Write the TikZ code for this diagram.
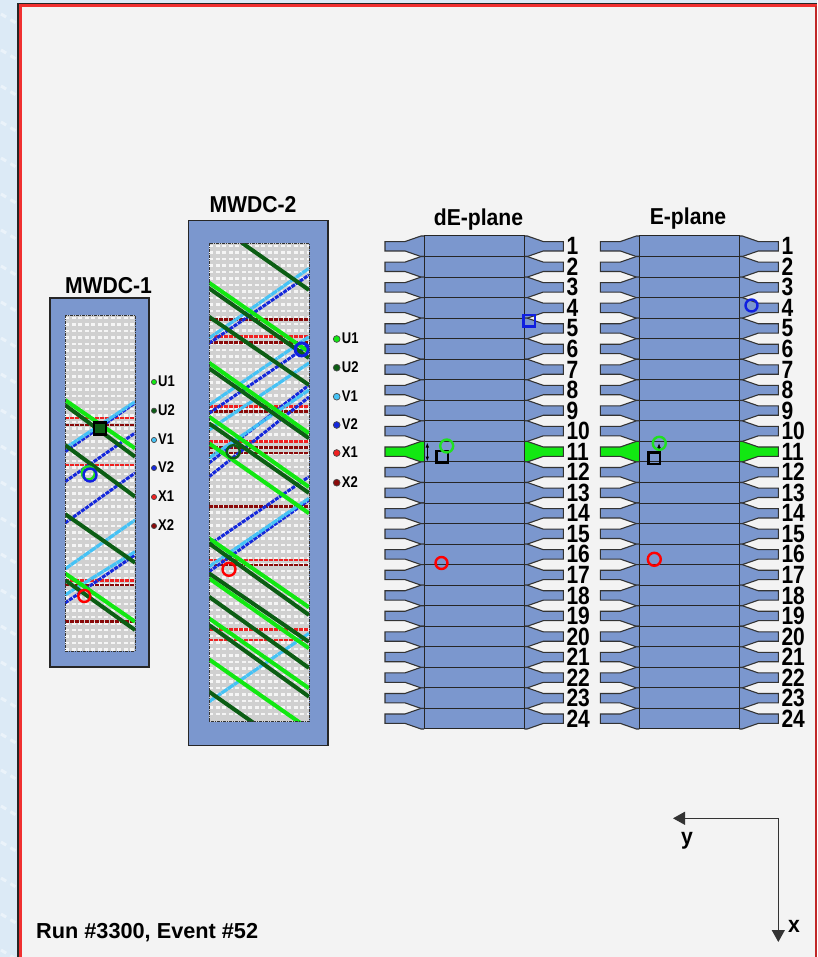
\documentclass[tikz,border=0pt]{standalone}
\usepackage{fontspec}
\setmainfont{Liberation Sans}
\newfontfamily\narrowfont[FakeStretch=0.84]{Liberation Sans}
\newfontfamily\titlefont[FakeStretch=0.92]{Liberation Sans}
\usetikzlibrary{arrows.meta}
\definecolor{panelgray}{HTML}{F3F3F3}
\definecolor{skyblue}{HTML}{DCEAF6}
\definecolor{framered}{HTML}{F03030}
\definecolor{chamberblue}{HTML}{7B97CE}
\definecolor{meshgray}{HTML}{D0D0D0}
\definecolor{uonecol}{HTML}{12E812}
\definecolor{utwocol}{HTML}{0C5E14}
\definecolor{vonecol}{HTML}{45C2F5}
\definecolor{vtwocol}{HTML}{1428DC}
\definecolor{xonecol}{HTML}{F02020}
\definecolor{xtwocol}{HTML}{8A0A0A}
\definecolor{hitblue}{HTML}{1020E0}
\definecolor{hitgreen}{HTML}{20E020}

\begin{document}
\begin{tikzpicture}[x=1pt, y=-1pt,
    title/.style={font=\titlefont\bfseries\fontsize{23}{23}\selectfont, inner sep=0pt},
    numlab/.style={font=\narrowfont\bfseries\fontsize{25}{25}\selectfont, anchor=west, inner sep=0pt},
    keylab/.style={font=\narrowfont\bfseries\fontsize{15.5}{15.5}\selectfont, anchor=west, inner sep=0pt},
    chamber/.style={fill=chamberblue, draw=black!85, line width=1.2pt},
    meshrow/.style={white, opacity=0.8, line width=2.4pt, dash pattern=on 4pt off 2.5pt},
    mesh/.style={draw=black!80, line width=0.8pt, dash pattern=on 3pt off 1pt on 1pt off 1pt},
    wireu1/.style={uonecol, line width=4pt},
    wireu2/.style={utwocol, line width=4pt},
    wirev1/.style={vonecol, line width=3.2pt, dash pattern=on 7pt off 0.6pt},
    wirev2/.style={vtwocol, line width=3pt, dash pattern=on 4pt off 1pt},
    wirex1/.style={xonecol, line width=2.8pt, dash pattern=on 4pt off 1pt},
    wirex2/.style={xtwocol, line width=2.8pt, dash pattern=on 4pt off 1pt},
    keydot/.style={line width=0.7pt, draw=black!70},
    hit/.style={line width=2.4pt},
    axis/.style={draw=black!80, line width=1.2pt, -{Triangle[length=12pt, width=13pt]}}
]
  \useasboundingbox (0,0) rectangle (817,957);

  % page background and frame
  \fill[skyblue] (0,0) rectangle (817,957);
  \foreach \yy in {14,50,...,950}
    \draw[white, line width=3pt, opacity=0.45, dash pattern=on 6pt off 5pt] (1,\yy) -- (16,\yy+9);
  \fill[panelgray] (20,5) rectangle (815,957);
  \draw[black!85, line width=1.2pt] (18,957) -- (18,3.5) -- (817,3.5);
  \draw[framered, line width=3pt] (20.5,957) -- (20.5,6) -- (817,6);
  \draw[framered!80!black, line width=2pt] (816,6) -- (816,957);

  % MWDC-1 chamber
  \draw[chamber] (50,298) rectangle (149,667);
  \fill[meshgray] (65,315) rectangle (135,651);
  \begin{scope}
    \clip (65,315) rectangle (135,651);
    \foreach \yy in {318,324.5,...,650}
      \draw[meshrow] (65,\yy) -- (135,\yy);
    \foreach \yy in {418,465,580.7}
      \draw[wirex1] (65,\yy) -- (135,\yy);
    \foreach \yy in {425,585,621.7}
      \draw[wirex2] (65,\yy) -- (135,\yy);
    \foreach \ya/\yb in {451.7/403,481.7/433,523/473,603/555}
      \draw[wirev2] (65,\ya) -- (135,\yb);
    \foreach \ya/\yb in {448.3/401.7,569/520,595/551.7}
      \draw[wirev1] (65,\ya) -- (135,\yb);
    \foreach \ya/\yb in {400/448.3,573.3/621.7}
      \draw[wireu1] (65,\ya) -- (135,\yb);
    \foreach \ya/\yb in {405/456.7,445/496.7,514/562.7,580/630}
      \draw[wireu2] (65,\ya) -- (135,\yb);
  \end{scope}
  \draw[mesh] (65,315) rectangle (135,651);
  \draw[black, line width=2.6pt, fill=utwocol] (94,422.3) rectangle (106,434.3);
  \draw[hit, hitgreen] (88.3,473) circle (6.5);
  \draw[hit, hitblue] (90,475) circle (6.5);
  \draw[hit, red] (84.3,596) circle (6);
  \node[title] (mwdcone) at (108.5,286) {MWDC-1};

  % MWDC-2 chamber
  \draw[chamber] (188.5,220.5) rectangle (328,745.5);
  \fill[meshgray] (209,243.5) rectangle (309,721.5);
  \begin{scope}
    \clip (209,243.5) rectangle (309,721.5);
    \foreach \yy in {246,252.5,...,720}
      \draw[meshrow] (209,\yy) -- (309,\yy);
    \foreach \yy in {336.7,406.7,441.7,560,629.3,640}
      \draw[wirex1] (209,\yy) -- (309,\yy);
    \foreach \yy in {319.3,342.7,411.7,447.3,453,506.7,565}
      \draw[wirex2] (209,\yy) -- (309,\yy);
    \foreach \ya/\yb in {343.3/275,413.3/345,463/385,476.7/397,545/476.7,571.7/500}
      \draw[wirev2] (209,\ya) -- (309,\yb);
    \foreach \ya/\yb in {338.3/268.3,405/336.7,430/363,458/390,566.7/498.3,701.7/633.3}
      \draw[wirev1] (209,\ya) -- (309,\yb);
    \foreach \ya/\yb in {282.7/352,362.7/433.3,416.7/487,443.3/513.3,538.3/607.3,578.3/648.3,618.3/688.3,659.3/729}
      \draw[wireu1] (209,\ya) -- (309,\yb);
    \foreach \ya/\yb in {288.3/358,316.7/385,368.3/438.3,423.3/493,543.3/615,573.3/642,596.7/668,625/696.7,691.7/761.7}
      \draw[wireu2] (209,\ya) -- (309,\yb);
    \draw[wireu2] (241.7,242.7) -- (309,290);
  \end{scope}
  \draw[mesh] (209,243.5) rectangle (309,721.5);
  \draw[line width=3pt, hitblue] (301.7,349.5) circle (6.5);
  \draw[hit, utwocol] (233.3,451.7) circle (6.5);
  \draw[hit, red] (229,569.3) circle (6.5);
  \node[title] (mwdctwo) at (253,205) {MWDC-2};

  % wire plane keys
  \foreach \kx/\ky/\kcol/\ktxt in {154/382/uonecol/U1, 154/410.7/utwocol/U2, 154/440/vonecol/V1,
      154/468/vtwocol/V2, 154/497/xonecol/X1, 154/526/xtwocol/X2} {
    \filldraw[keydot, fill=\kcol] (\kx,\ky) circle (2.6);
    \node[keylab] (keyone\ktxt) at (\kx+4,\ky-1) {\ktxt};
  }
  \foreach \kx/\ky/\kcol/\ktxt in {336.7/339/uonecol/U1, 336.7/367.7/utwocol/U2, 336.7/396.7/vonecol/V1,
      336.7/425/vtwocol/V2, 336.7/453/xonecol/X1, 336.7/482.7/xtwocol/X2} {
    \filldraw[keydot, fill=\kcol] (\kx,\ky) circle (3.4);
    \node[keylab] (keytwo\ktxt) at (\kx+5,\ky-1) {\ktxt};
  }

  % scintillator planes
  \foreach \xl/\xr/\pname in {424/524.3/dE, 639.3/739.3/E} {
    \foreach \i in {1,...,24} {
      \pgfmathsetmacro{\yt}{236+20.54*(\i-1)}
      \pgfmathsetmacro{\yb}{\yt+20.54}
      \pgfmathsetmacro{\yc}{\yt+10.27}
      \ifnum\i=11 \def\guidecol{uonecol}\else\def\guidecol{chamberblue}\fi
      \filldraw[draw=black!80, line width=1.1pt, fill=\guidecol]
        (\xl,\yt) -- (\xl-3,\yt) -- (\xl-19,\yc-4.7) -- (\xl-39,\yc-4.7) -- (\xl-39,\yc+4.7)
        -- (\xl-19,\yc+4.7) -- (\xl-3,\yb) -- (\xl,\yb);
      \filldraw[draw=black!80, line width=1.1pt, fill=\guidecol]
        (\xr,\yt) -- (\xr+3,\yt) -- (\xr+19,\yc-4.7) -- (\xr+39,\yc-4.7) -- (\xr+39,\yc+4.7)
        -- (\xr+19,\yc+4.7) -- (\xr+3,\yb) -- (\xr,\yb);
      \filldraw[draw=black!85, line width=1pt, fill=chamberblue] (\xl,\yt) rectangle (\xr,\yb);
      \node[numlab] (num\pname\i) at (\xr+42,\yc) {\i};
    }
  }
  \node[title] (deplane) at (478.5,220) {dE-plane};
  \node[title] (eplane) at (688,219) {E-plane};

  % hits on the planes
  \draw[black, line width=1.2pt, {Latex[length=5pt]}-{Latex[length=5pt]}] (427.3,442.5) -- (427.3,461.5);
  \draw[hit, black] (436.5,451) rectangle (448,462.5);
  \draw[hit, hitgreen] (446.7,446) circle (6.5);
  \draw[hit, hitblue] (523.5,314.8) rectangle (535.2,326.5);
  \draw[hit, red] (441.5,563) circle (6);
  \draw[black, line width=1.2pt, -{Latex[length=5pt]}] (659,451) -- (659,443);
  \draw[hit, black] (648.5,452.5) rectangle (660,464);
  \draw[hit, hitgreen] (659.3,443.3) circle (6.5);
  \draw[hit, hitblue] (751.5,305.5) circle (6);
  \draw[hit, red] (654.3,559.3) circle (6.5);

  % axes and run label
  \coordinate (axcorner) at (778.3,818.3);
  \coordinate (axyend) at (673,818.3);
  \coordinate (axxend) at (778.3,942);
  \draw[axis] (axcorner) -- (axyend);
  \draw[axis] (axcorner) -- (axxend);
  \node[title] (ylab) at (687,841) {y};
  \node[title] (xlab) at (794,926) {x};
  \node[anchor=west, inner sep=0pt, font=\bfseries\fontsize{21.7}{21.7}\selectfont] (runlab) at (36,933) {Run \#3300, Event \#52};
\end{tikzpicture}
\end{document}
